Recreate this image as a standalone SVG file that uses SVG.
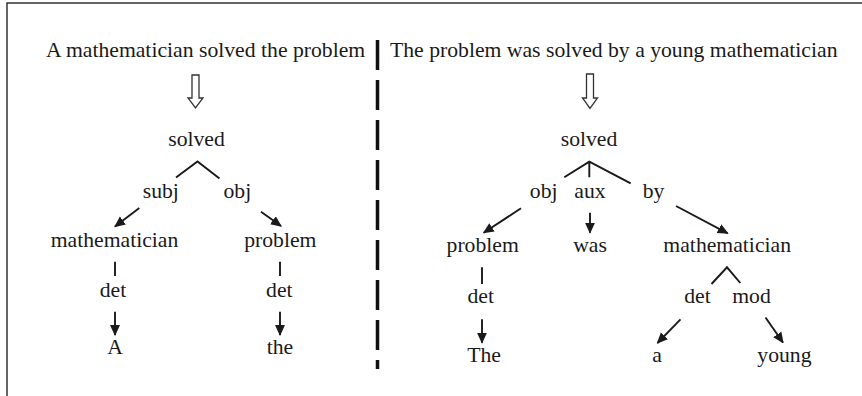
<svg xmlns="http://www.w3.org/2000/svg" width="862" height="396" viewBox="0 0 862 396">
<style>
text{font-family:"Liberation Serif","Times New Roman",serif;font-size:21.7px;fill:#1a1a1a;text-anchor:middle}
.t{text-anchor:start}
.ln{stroke:#1a1a1a;stroke-width:1.9;fill:none}
.ar{stroke:#1a1a1a;stroke-width:1.9;fill:none;marker-end:url(#ah)}
.hol{fill:#fff;stroke:#333;stroke-width:1.3}
</style>
<defs>
<marker id="ah" viewBox="0 0 10 10" refX="9" refY="5" markerWidth="11" markerHeight="11" markerUnits="userSpaceOnUse" orient="auto">
<path d="M0,0.5 L10,5 L0,9.5 z" fill="#1a1a1a"/>
</marker>
</defs>
<rect width="862" height="396" fill="#fff"/>
<path d="M7,396 V3 H862" fill="none" stroke="#333" stroke-width="1.5"/>
<line x1="377.5" y1="40" x2="377.5" y2="369" stroke="#111" stroke-width="3.5" stroke-dasharray="30 10"/>

<g id="left-title"><text class="t" x="46" y="57">A mathematician solved the problem</text></g>
<g id="right-title"><text class="t" x="390" y="57">The problem was solved by a young mathematician</text></g>

<g id="left-arrow"><path class="hol" d="M192,75 H199 V98 H203 L195.5,108 L188,98 H192 Z"/></g>
<g id="right-arrow"><path class="hol" d="M586.5,74 H593.5 V98 H597.5 L590,108.5 L582.5,98 H586.5 Z"/></g>

<g id="l-solved"><text x="196.5" y="146">solved</text></g>
<g id="l-subj"><text x="160.8" y="198">subj</text></g>
<g id="l-obj"><text x="237.3" y="198">obj</text></g>
<g id="l-mathematician"><text x="114.5" y="246.7">mathematician</text></g>
<g id="l-problem"><text x="280.3" y="246.7">problem</text></g>
<g id="l-det1"><text x="113" y="297.3">det</text></g>
<g id="l-det2"><text x="279.3" y="297.3">det</text></g>
<g id="l-A"><text x="115" y="354">A</text></g>
<g id="l-the"><text x="280" y="354">the</text></g>

<g id="r-solved"><text x="589" y="146">solved</text></g>
<g id="r-obj"><text x="543.7" y="198">obj</text></g>
<g id="r-aux"><text x="590" y="198">aux</text></g>
<g id="r-by"><text x="653.5" y="198">by</text></g>
<g id="r-problem"><text x="482.7" y="251.7">problem</text></g>
<g id="r-was"><text x="590" y="251.7">was</text></g>
<g id="r-mathematician"><text x="727.2" y="251.7">mathematician</text></g>
<g id="r-det1"><text x="480.7" y="303.3">det</text></g>
<g id="r-det2"><text x="697.5" y="303.3">det</text></g>
<g id="r-mod"><text x="751.5" y="303.3">mod</text></g>
<g id="r-The"><text x="484" y="361.7">The</text></g>
<g id="r-a"><text x="657" y="361.7">a</text></g>
<g id="r-young"><text x="784.4" y="361.7">young</text></g>

<g id="connectors">
<path class="ln" d="M176,177.5 L197.5,161.5 L219.5,178.5"/>
<line class="ar" x1="139.3" y1="208" x2="115" y2="226.5"/>
<line class="ar" x1="261" y1="211.7" x2="281" y2="226"/>
<line class="ln" x1="115" y1="261.7" x2="115" y2="276"/>
<line class="ln" x1="280" y1="261.7" x2="280" y2="276"/>
<line class="ar" x1="115" y1="311.7" x2="115" y2="335"/>
<line class="ar" x1="280" y1="311.7" x2="280" y2="335"/>

<path class="ln" d="M564.3,177.3 L589.3,161.7 L630.7,183.3 M589.3,161.7 V177.3"/>
<line class="ar" x1="521" y1="208.3" x2="483.7" y2="232.7"/>
<line class="ar" x1="590" y1="212.7" x2="590" y2="232.7"/>
<line class="ar" x1="676" y1="206" x2="727.7" y2="233.3"/>
<line class="ln" x1="482" y1="267.3" x2="482" y2="284"/>
<line class="ar" x1="482" y1="319.3" x2="482" y2="342.7"/>
<path class="ln" d="M711.5,284 L727,267.3 L740.3,283"/>
<line class="ar" x1="680.5" y1="319.3" x2="657.5" y2="343"/>
<line class="ar" x1="765.5" y1="317.5" x2="783" y2="342.5"/>
</g>
</svg>
